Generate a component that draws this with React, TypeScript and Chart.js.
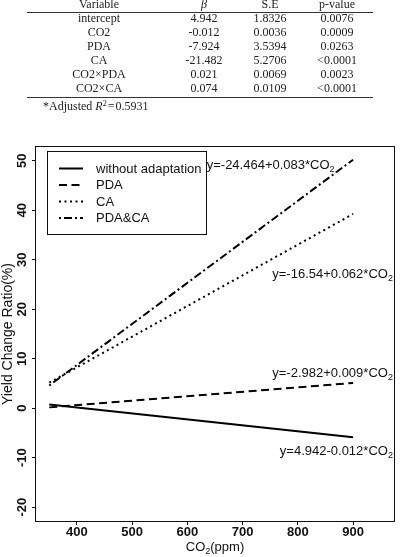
import React, { useEffect, useRef } from "react";
import { Chart, registerables } from "chart.js";

Chart.register(...registerables);

// Regression lines: yield change ratio (%) against CO2 concentration (ppm)
const co2Range = [350, 900];
const seriesNames = ["without adaptation", "PDA", "CA", "PDA&CA"];
const intercepts = [4.942, -2.982, -16.54, -24.464];
const slopes = [-0.012, 0.009, 0.062, 0.083];

const xTicks = [400, 500, 600, 700, 800, 900];
const yTicks = [-20, -10, 0, 10, 20, 30, 40, 50];

// Coefficient table
const tableHeader = ["Variable", "β", "S.E", "p-value"];
const tableVariables = ["intercept", "CO2", "PDA", "CA", "CO2×PDA", "CO2×CA"];
const tableBeta = ["4.942", "-0.012", "-7.924", "-21.482", "0.021", "0.074"];
const tableSE = ["1.8326", "0.0036", "3.5394", "5.2706", "0.0069", "0.0109"];
const tablePValue = ["0.0076", "0.0009", "0.0263", "<0.0001", "0.0023", "<0.0001"];
const adjustedR2 = "0.5931";

const dashStyles: number[][] = [[], [8, 4.5], [2, 3.5], [2, 3, 8, 3]];

const SANS = "'Liberation Sans', Arial, sans-serif";
const SERIF = "'Liberation Serif', 'Times New Roman', serif";

function equationText(i: number) {
  const a = intercepts[i];
  const b = slopes[i];
  return `y=${a}${b < 0 ? "-" : "+"}${Math.abs(b)}*CO`;
}

// where each equation is written: data coordinates + alignment
const eqPlacement = [
  { x: 972, y: -8.5, align: "right" },
  { x: 972, y: 7.3, align: "right" },
  { x: 972, y: 27.3, align: "right" },
  { x: 635, y: 49.4, align: "left" },
];

function drawSubscripted(
  ctx: CanvasRenderingContext2D,
  main: string,
  sub: string,
  tail: string,
  x: number,
  yMid: number,
  align: string,
  size: number
) {
  const mainFont = `${size}px ${SANS}`;
  const subFont = `${Math.round(size * 0.72)}px ${SANS}`;
  ctx.font = mainFont;
  const w1 = ctx.measureText(main).width;
  const w3 = ctx.measureText(tail).width;
  ctx.font = subFont;
  const w2 = ctx.measureText(sub).width;
  const total = w1 + w2 + w3;
  let x0 = x;
  if (align === "right") x0 = x - total;
  else if (align === "center") x0 = x - total / 2;
  const base = yMid + size * 0.36;
  ctx.textAlign = "left";
  ctx.textBaseline = "alphabetic";
  ctx.font = mainFont;
  ctx.fillText(main, x0, base);
  ctx.font = subFont;
  ctx.fillText(sub, x0 + w1, base + size * 0.25);
  ctx.font = mainFont;
  ctx.fillText(tail, x0 + w1 + w2, base);
}

const decorations = {
  id: "decorations",
  afterDatasetsDraw(chart: any) {
    const { ctx, chartArea: a, scales } = chart;
    ctx.save();
    // plot frame
    ctx.strokeStyle = "#111";
    ctx.lineWidth = 1;
    ctx.setLineDash([]);
    ctx.strokeRect(a.left - 0.5, a.top - 0.5, a.right - a.left + 1, a.bottom - a.top + 1);

    // legend box
    const lx = 47.5, ly = 151.5, lw = 159, lh = 83;
    ctx.fillStyle = "#fff";
    ctx.fillRect(lx, ly, lw, lh);
    ctx.strokeRect(lx, ly, lw, lh);
    chart.data.datasets.forEach((ds: any, i: number) => {
      const y = 168.5 + i * 16.5;
      ctx.strokeStyle = "#000";
      ctx.lineWidth = 2;
      ctx.setLineDash(ds.borderDash || []);
      ctx.beginPath();
      ctx.moveTo(59, y);
      ctx.lineTo(83, y);
      ctx.stroke();
      ctx.setLineDash([]);
      ctx.fillStyle = "#111";
      ctx.font = `13px ${SANS}`;
      ctx.textAlign = "left";
      ctx.textBaseline = "middle";
      ctx.fillText(ds.label, 96, y + 0.5);
    });

    // regression equations
    ctx.fillStyle = "#111";
    eqPlacement.forEach((p, i) => {
      const px = scales.x.getPixelForValue(p.x);
      const py = scales.y.getPixelForValue(p.y);
      drawSubscripted(ctx, equationText(i), "2", "", px, py, p.align, 13);
    });

    // x-axis title
    drawSubscripted(ctx, "CO", "2", "(ppm)", (a.left + a.right) / 2, 546, "center", 13);
    ctx.restore();
  },
};

function CoefficientTable() {
  const colCenters = [99, 204, 270, 337];
  const rows = tableVariables.map((v, i) => [v, tableBeta[i], tableSE[i], tablePValue[i]]);
  const cell = (text: React.ReactNode, cx: number, cy: number, key: string) => (
    <div
      key={key}
      style={{
        position: "absolute",
        left: cx - 70,
        width: 140,
        top: cy - 7.5,
        height: 14,
        lineHeight: "14px",
        textAlign: "center",
        whiteSpace: "nowrap",
      }}
    >
      {text}
    </div>
  );
  return (
    <div
      style={{
        position: "absolute",
        left: 0,
        top: 0,
        width: 402,
        height: 112,
        fontFamily: SERIF,
        fontSize: 12,
        color: "#222",
      }}
    >
      {tableHeader.map((h, j) =>
        cell(j === 1 ? <i>{h}</i> : h, colCenters[j], 4, `h${j}`)
      )}
      <div style={{ position: "absolute", left: 27, width: 346, top: 12, height: 1.4, background: "#333" }} />
      {rows.map((r, i) =>
        r.map((t, j) => cell(t, colCenters[j], 18.3 + 14.1 * i, `r${i}c${j}`))
      )}
      <div style={{ position: "absolute", left: 27, width: 346, top: 97, height: 1.4, background: "#333" }} />
      <div
        style={{
          position: "absolute",
          left: 43,
          top: 97,
          height: 14,
          lineHeight: "14px",
          whiteSpace: "nowrap",
        }}
      >
        *Adjusted <i>R</i>
        <sup style={{ fontSize: 8, verticalAlign: 4 }}>2</sup>
        <span style={{ margin: "0 1px" }}>=</span>
        {adjustedR2}
      </div>
    </div>
  );
}

export default function App() {
  const canvasRef = useRef<HTMLCanvasElement | null>(null);

  useEffect(() => {
    const canvas = canvasRef.current;
    if (!canvas) return;
    const datasets = seriesNames.map((name, i) => ({
      label: name,
      data: co2Range.map((c) => ({ x: c, y: +(intercepts[i] + slopes[i] * c).toFixed(3) })),
      borderColor: "#000",
      backgroundColor: "#000",
      borderWidth: 2,
      borderDash: dashStyles[i],
      borderCapStyle: "butt" as const,
      pointRadius: 0,
      fill: false,
      tension: 0,
    }));

    const chart = new Chart(canvas, {
      type: "line",
      data: { datasets },
      plugins: [decorations],
      options: {
        responsive: false,
        animation: false,
        devicePixelRatio: 1,
        layout: { padding: { left: 0, right: 8, top: 147, bottom: 0 } },
        plugins: {
          legend: { display: false },
          tooltip: { enabled: false },
        },
        scales: {
          x: {
            type: "linear",
            min: 326,
            max: 974,
            afterBuildTicks: (scale: any) => {
              scale.ticks = xTicks.map((v) => ({ value: v }));
            },
            afterFit: (scale: any) => {
              scale.height = 36;
            },
            border: { display: false },
            grid: {
              display: true,
              drawOnChartArea: false,
              drawTicks: true,
              tickLength: 4,
              tickColor: "#111",
              tickWidth: 1,
            },
            ticks: {
              color: "#111",
              font: { family: SANS, size: 13, weight: "bold" },
              padding: 0,
              maxRotation: 0,
              minRotation: 0,
            },
          },
          y: {
            type: "linear",
            min: -22.8,
            max: 52.8,
            afterBuildTicks: (scale: any) => {
              scale.ticks = yTicks.map((v) => ({ value: v }));
            },
            afterFit: (scale: any) => {
              scale.width = 36;
            },
            border: { display: false },
            grid: {
              display: true,
              drawOnChartArea: false,
              drawTicks: true,
              tickLength: 4,
              tickColor: "#111",
              tickWidth: 1,
            },
            ticks: {
              color: "#111",
              font: { family: SANS, size: 13, weight: "bold" },
              padding: 0,
              minRotation: 90,
              maxRotation: 90,
              crossAlign: "center",
            },
            title: {
              display: true,
              text: "Yield Change Ratio(%)",
              color: "#111",
              font: { family: SANS, size: 14 },
              padding: { top: 0, bottom: 0 },
            },
          },
        },
      },
    } as any);
    return () => chart.destroy();
  }, []);

  return (
    <div style={{ position: "absolute", left: 0, top: 0, width: 402, height: 557, background: "#fff" }}>
      <canvas
        ref={canvasRef}
        width={402}
        height={557}
        style={{ position: "absolute", left: 0, top: 0, width: 402, height: 557 }}
      />
      <CoefficientTable />
    </div>
  );
}
